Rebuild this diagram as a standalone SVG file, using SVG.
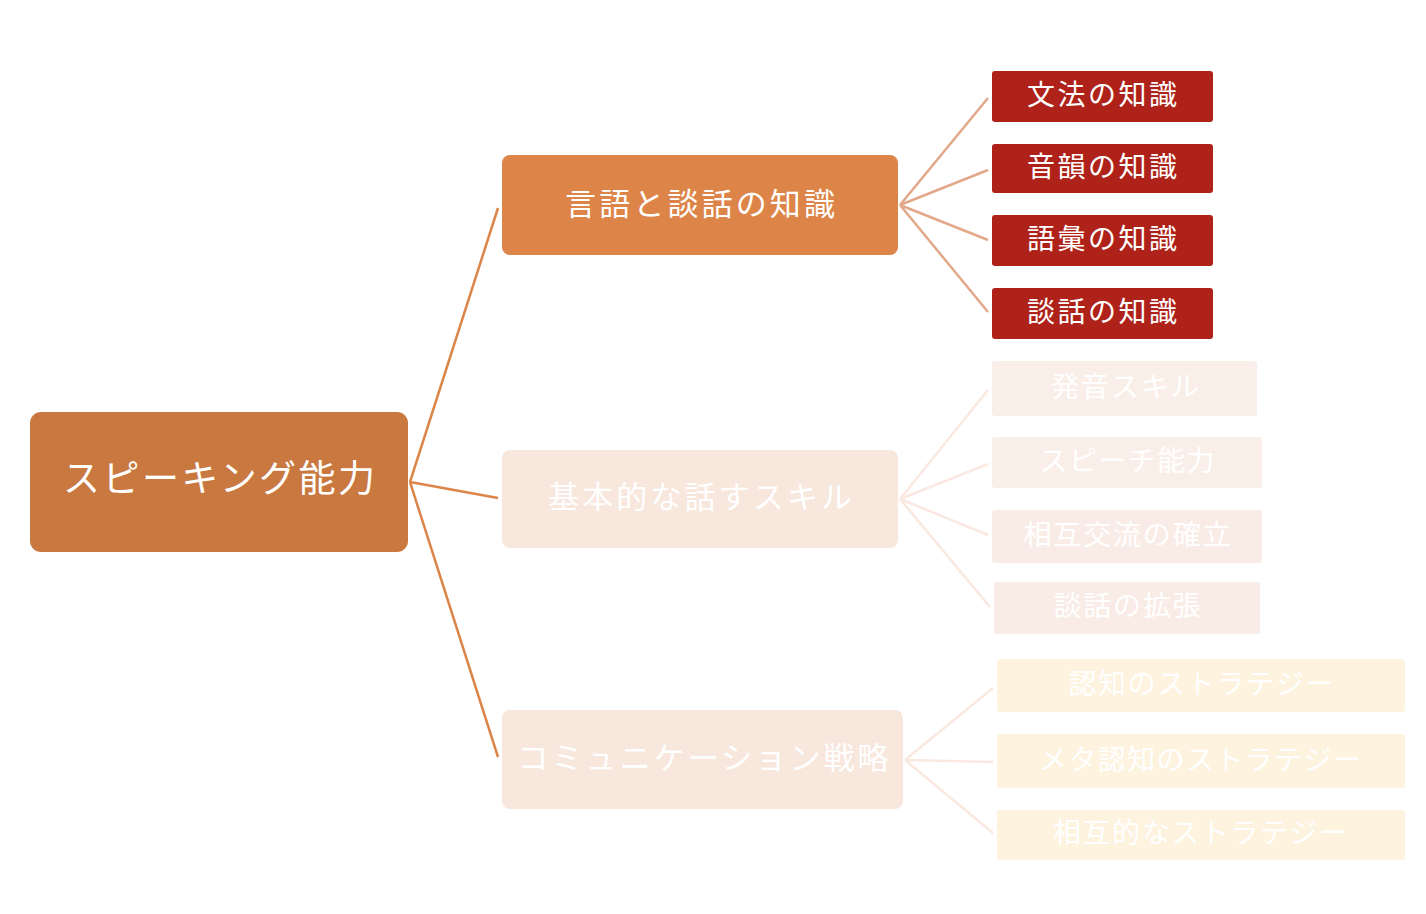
<svg xmlns="http://www.w3.org/2000/svg" width="1426" height="914" viewBox="0 0 1426 914">
<style>
text{font-family:"Noto Sans CJK JP","Noto Sans",sans-serif;fill:#fff;text-anchor:middle;dominant-baseline:central}
.root{fill:#C97840}
.l1a{fill:#DD8549}
.l1b{fill:#F8E7DD}
.red{fill:#AE2219}
.pk{fill:#FAEFE8}
.pk2{fill:#F9ECE7}
.yl{fill:#FDF3DF}
.c0{stroke:#DD8549;stroke-width:2.5;fill:none}
.c1{stroke:#E3A88A;stroke-width:2.5;fill:none}
.c2{stroke:#F9E9E0;stroke-width:2.5;fill:none}
.t36{font-size:37px}
.t30{font-size:31px}
.t28{font-size:28px}
</style>
<rect width="1426" height="914" fill="#fff"/>
<g id="connectors">
<path class="c0" d="M410 482L498 208M410 482L498 498M410 482L498 757"/>
<path class="c1" d="M900 205L988 98M900 205L988 170M900 205L988 240M900 205L988 312"/>
<path class="c2" d="M900 499L988 390M900 499L988 464M900 499L988 535M900 499L990 607"/>
<path class="c2" d="M905 760L993 688M905 760L993 762M905 760L993 833"/>
</g>
<g id="root"><rect class="root" x="30" y="412" width="378" height="140" rx="11"/><text class="t36" x="219" y="476" textLength="312" lengthAdjust="spacing">スピーキング能力</text></g>
<g id="n1"><rect class="l1a" x="502" y="155" width="396" height="100" rx="8"/><text class="t30" x="700" y="201" textLength="270" lengthAdjust="spacing">言語と談話の知識</text></g>
<g id="n2"><rect class="l1b" x="502" y="450" width="396" height="98" rx="8"/><text class="t30" x="700" y="494" textLength="304" lengthAdjust="spacing">基本的な話すスキル</text></g>
<g id="n3"><rect class="l1b" x="502" y="710" width="401" height="99" rx="8"/><text class="t30" x="703" y="755" textLength="371" lengthAdjust="spacing">コミュニケーション戦略</text></g>
<g id="n1a"><rect class="red" x="992" y="71" width="221" height="51" rx="3"/><text class="t28" x="1102" y="93" textLength="150" lengthAdjust="spacing">文法の知識</text></g>
<g id="n1b"><rect class="red" x="992" y="144" width="221" height="49" rx="3"/><text class="t28" x="1102" y="165" textLength="150" lengthAdjust="spacing">音韻の知識</text></g>
<g id="n1c"><rect class="red" x="992" y="215" width="221" height="51" rx="3"/><text class="t28" x="1102" y="237" textLength="150" lengthAdjust="spacing">語彙の知識</text></g>
<g id="n1d"><rect class="red" x="992" y="288" width="221" height="51" rx="3"/><text class="t28" x="1102" y="310" textLength="150" lengthAdjust="spacing">談話の知識</text></g>
<g id="n2a"><rect class="pk" x="992" y="361" width="265" height="55" rx="3"/><text class="t28" x="1125" y="385" textLength="148" lengthAdjust="spacing">発音スキル</text></g>
<g id="n2b"><rect class="pk" x="992" y="437" width="270" height="51" rx="3"/><text class="t28" x="1127" y="459" textLength="175" lengthAdjust="spacing">スピーチ能力</text></g>
<g id="n2c"><rect class="pk2" x="992" y="510" width="270" height="53" rx="3"/><text class="t28" x="1127" y="533" textLength="207" lengthAdjust="spacing">相互交流の確立</text></g>
<g id="n2d"><rect class="pk2" x="994" y="582" width="266" height="52" rx="3"/><text class="t28" x="1127" y="604" textLength="147" lengthAdjust="spacing">談話の拡張</text></g>
<g id="n3a"><rect class="yl" x="997" y="659" width="408" height="53" rx="3"/><text class="t28" x="1201" y="682" textLength="265" lengthAdjust="spacing">認知のストラテジー</text></g>
<g id="n3b"><rect class="yl" x="997" y="734" width="408" height="54" rx="3"/><text class="t28" x="1200" y="758" textLength="322" lengthAdjust="spacing">メタ認知のストラテジー</text></g>
<g id="n3c"><rect class="yl" x="997" y="810" width="408" height="50" rx="3"/><text class="t28" x="1200" y="831" textLength="294" lengthAdjust="spacing">相互的なストラテジー</text></g>
</svg>
